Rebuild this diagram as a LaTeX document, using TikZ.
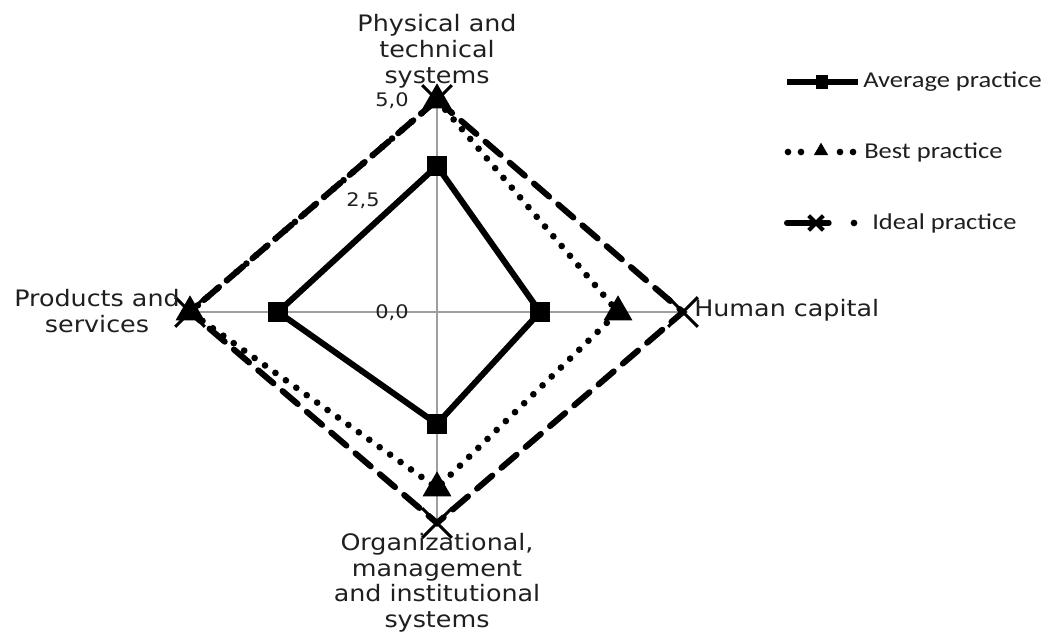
\documentclass[tikz,border=0pt]{standalone}
\usepackage{fontspec}
\usetikzlibrary{shapes.geometric,shapes.misc}
\newfontfamily\labfont[FakeStretch=1.12]{DejaVu Sans}
\newfontfamily\legfont[FakeStretch=1.17]{Carlito}
\begin{document}
\begin{tikzpicture}[x=0.75pt,y=-0.75pt,
  axis/.style={draw=black!38,line width=1.1pt},
  avgline/.style={line width=4.5pt,line join=miter},
  bestline/.style={line width=5pt,line cap=round,dash pattern=on 0pt off 9.6pt},
  idealline/.style={line width=4.5pt,line cap=round,dash pattern=on 15pt off 9pt},
  sq/.style={fill=black,minimum width=15pt,minimum height=14.5pt,inner sep=0pt},
  tri/.style={regular polygon,regular polygon sides=3,fill=black,minimum size=25pt,inner sep=0pt},
  xm/.style={cross out,draw=black,line width=2.2pt,minimum size=20pt,inner sep=0pt},
  lsq/.style={fill=black,minimum width=9pt,minimum height=10pt,inner sep=0pt},
  ltri/.style={regular polygon,regular polygon sides=3,fill=black,minimum size=12.5pt,inner sep=0pt},
  lxm/.style={cross out,draw=black,line width=3pt,minimum size=8pt,inner sep=0pt},
  ldot/.style={circle,fill=black,minimum size=5pt,inner sep=0pt},
  lab/.style={font=\labfont\fontsize{17}{19.3}\selectfont,align=center,text=black!88,inner sep=0pt},
  tick/.style={font=\labfont\fontsize{14}{16}\selectfont,text=black!88,inner sep=0pt},
  leg/.style={font=\legfont\fontsize{17}{19}\selectfont,text=black!88,anchor=west,inner sep=0pt}]
\useasboundingbox (0,0) rectangle (1055,634);
% centre and axes
\coordinate (c) at (437,312);
\coordinate (axT) at (437,100);
\coordinate (axB) at (437,523);
\coordinate (axL) at (190,312);
\coordinate (axR) at (683,312);
\draw[axis] (axL) -- (axR);
\draw[axis] (axT) -- (axB);
% data coordinates
\coordinate (a1) at (437,166);
\coordinate (a2) at (540,312);
\coordinate (a3) at (437,424);
\coordinate (a4) at (278,312);
\coordinate (b1) at (437,100);
\coordinate (b2) at (618,312);
\coordinate (b3) at (437,488);
\coordinate (b4) at (190,312);
\coordinate (i1) at (437,100);
\coordinate (i2) at (683,312);
\coordinate (i3) at (437,523);
\coordinate (i4) at (190,312);
% series lines
\draw[avgline] (a1) -- (a2) -- (a3) -- (a4) -- cycle;
\draw[bestline] (b1) -- (b2) -- (b3) -- (b4) -- cycle;
\draw[idealline] (i1) -- (i2) -- (i3) -- (i4) -- cycle;
% markers
\foreach \p in {a1,a2,a3,a4} \node[sq] (m\p) at (\p) {};
\foreach \p in {b1,b2,b3,b4} \node[tri] (m\p) at (\p) {};
\foreach \p in {i1,i2,i3,i4} \node[xm] (m\p) at (\p) {};
% tick labels
\node[tick] (t5) at (392,101) {5,0};
\node[tick] (t25) at (363,201) {2,5};
\node[tick] (t0) at (392,313) {0,0};
% axis labels
\node[lab,anchor=south] (lt) at (437,88) {Physical and\\technical\\systems};
\node[lab,anchor=west] (lr) at (694,310) {Human capital};
\node[lab] (ll) at (97,311) {Products and\\services};
\node[lab,anchor=north] (lb) at (437,533) {Organizational,\\management\\and institutional\\systems};
% legend
\coordinate (g1a) at (787,82);
\coordinate (g1b) at (858,82);
\draw[line width=4.5pt] (g1a) -- (g1b);
\node[lsq] (g1m) at (822,82) {};
\node[leg] (g1t) at (863,82) {Average practice};
\node[ldot] (g2d1) at (788,152) {};
\node[ldot] (g2d2) at (801,152) {};
\node[ltri] (g2m) at (821,151) {};
\node[ldot] (g2d3) at (840,152) {};
\node[ldot] (g2d4) at (853,152) {};
\node[leg] (g2t) at (864,152) {Best practice};
\coordinate (g3a) at (787,223);
\coordinate (g3b) at (808,223);
\coordinate (g3c) at (829,223);
\draw[line width=4.5pt,line cap=round] (g3a) -- (g3b);
\draw[line width=4pt,line cap=round] (g3b) -- (g3c);
\node[lxm] (g3m) at (816,223) {};
\node[ldot] (g3d) at (854,223) {};
\node[leg] (g3t) at (872,223) {Ideal practice};
\end{tikzpicture}
\end{document}
